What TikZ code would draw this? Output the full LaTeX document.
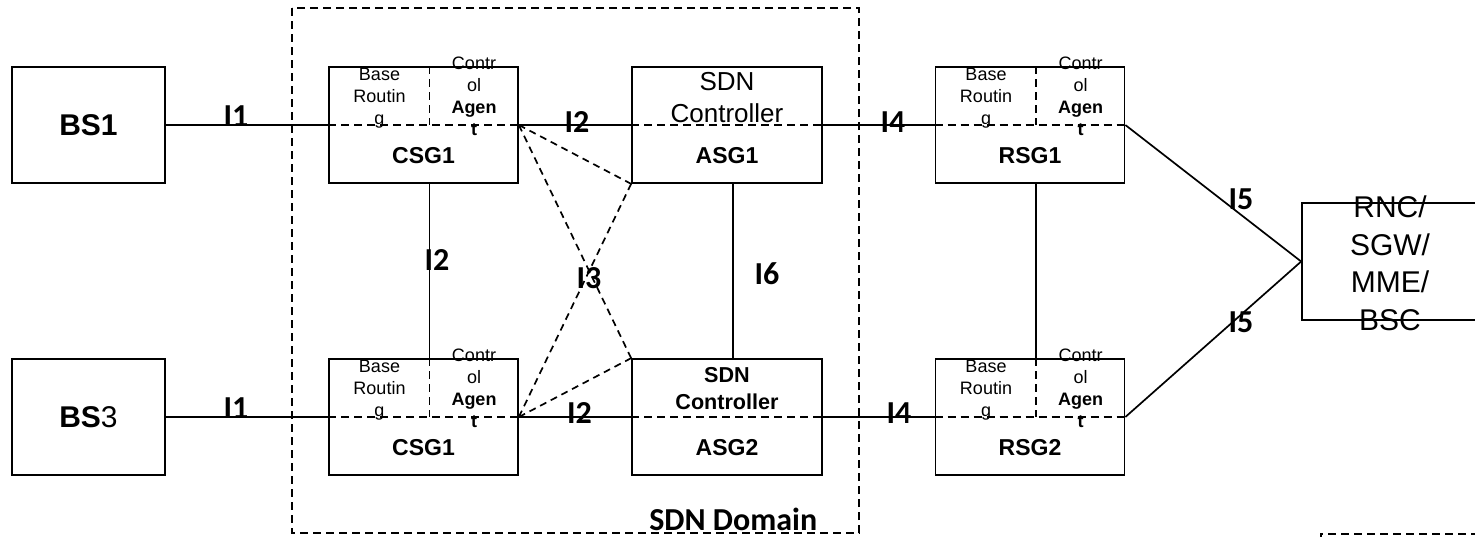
\documentclass[tikz,border=0pt]{standalone}
\usepackage{fontspec}
\setmainfont{Liberation Sans}
\newfontfamily\calibrifont{Carlito}
\usepackage{tikz}
\usetikzlibrary{backgrounds}
\usetikzlibrary{calc}

\tikzset{
	box/.style = {draw, line width = 1.7pt, inner sep = 0pt},
	dline/.style = {line width = 1.7pt, dash pattern = on 8pt off 5pt},
	tag/.style = {font = \calibrifont\bfseries\fontsize{32}{38}\selectfont, inner sep = 0pt},
	cell/.style = {align = center, inner sep = 0pt, font = \fontsize{18}{22}\selectfont},
	boxlab/.style = {inner sep = 0pt, font = \bfseries\fontsize{23}{28}\selectfont},
}

\begin{document}
\begin{tikzpicture}[x = 1pt, y = -1pt, line width = 1.7pt]
	\useasboundingbox (0,0) rectangle (1475,536);
	\draw[dline] (292,8) rectangle (859,533);
	\node[tag, anchor = base east] (domain) at (818,530) {SDN Domain};
	\foreach \name/\x/\y/\lab in {bs1/88.5/125/{\textbf{BS1}}, bs3/88.5/417/{\textbf{BS}3}}{
		\node[box, minimum width = 153pt, minimum height = 116pt, font = \fontsize{30}{36}\selectfont] (\name) at (\x, \y) {\lab};}
	\foreach \name/\x/\y/\lab in {csgA/423.5/125/CSG1, csgB/423.5/417/CSG1, rsg1/1030/125/RSG1, rsg2/1030/417/RSG2}{
		\node[box, minimum width = 189pt, minimum height = 116pt] (\name) at (\x, \y) {};
		\draw[dline] (\name.west) -- (\name.east);
		\draw[dline] ([xshift = 6pt]\name.north) -- ([xshift = 6pt]\name.center);
		\node[cell] (\name-base) at ([xshift = -44pt, yshift = 27pt]\name.center) {Base\\Routin\\g};
		\node[cell] (\name-agent) at ([xshift = 50.5pt, yshift = 29pt]\name.center) {Contr\\ol\\\textbf{Agen}\\\textbf{t}};
		\node[boxlab] (\name-lab) at ([yshift = -31pt]\name.center) {\lab};}
	\foreach \name/\y/\lab in {asg1/125/ASG1, asg2/417/ASG2}{
		\node[box, minimum width = 190pt, minimum height = 116pt] (\name) at (727, \y) {};
		\draw[dline] (\name.west) -- (\name.east);
		\node[boxlab] (\name-lab) at ([yshift = -31pt]\name.center) {\lab};}
	\node[align = center, inner sep = 0pt, font = \fontsize{26}{32}\selectfont] (asg1-ctrl) at ([yshift = 27pt]asg1.center) {SDN\\Controller};
	\node[align = center, inner sep = 0pt, font = \bfseries\fontsize{21.6}{27}\selectfont] (asg2-ctrl) at ([yshift = 28.6pt]asg2.center) {SDN\\Controller};
	\node[box, minimum width = 176pt, minimum height = 117pt] (rnc) at (1390,261.5) {};
	\node[align = center, inner sep = 0pt, font = \fontsize{30}{37.7}\selectfont] (rnc-text) at (1390,263.4) {RNC/\\SGW/\\MME/\\BSC};
	\foreach \a/\b in {bs1/csgA, csgA/asg1, asg1/rsg1, bs3/csgB, csgB/asg2, asg2/rsg2}{
		\draw (\a.east) -- (\b.west);}
	\foreach \a/\b in {csgA/csgB, asg1/asg2, rsg1/rsg2}{
		\draw ([xshift = 6pt]\a.south) -- ([xshift = 6pt]\b.north);}
	\draw (rsg1.east) -- (rnc.west);
	\draw (rsg2.east) -- (rnc.west);
	\foreach \a in {csgA, csgB}{
		\foreach \b in {asg1.south west, asg2.north west}{
			\draw[dline, dash pattern = on 7pt off 5pt] (\a.east) -- (\b);}}
	\foreach \name/\x/\y/\t in {i1a/236/116.5/I1, i1b/236/408.5/I1, i2a/577/122/I2, i2b/579.5/413/I2, i2c/437/260/I2, i3/589/278/I3, i4a/893/122/I4, i4b/899/413/I4, i5a/1241/199/I5, i5b/1241/322/I5, i6/767/274/I6}{
		\node[tag] (\name) at (\x, \y) {\t};}
	\draw[dline] (1321,540) -- (1321,534) -- (1480,534);
\end{tikzpicture}
\end{document}
